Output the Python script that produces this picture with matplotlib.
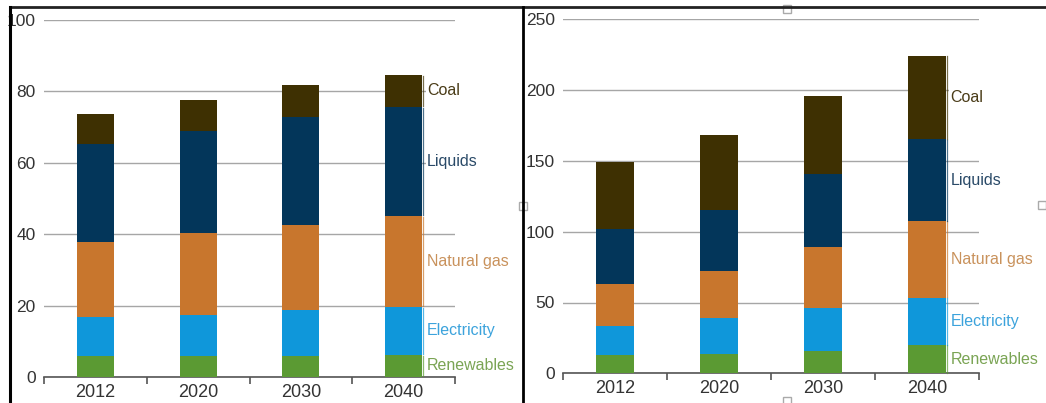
import numpy as np
import matplotlib.pyplot as plt
from matplotlib.lines import Line2D
from matplotlib.patches import Rectangle

plt.rcParams['font.family'] = ['Liberation Sans', 'DejaVu Sans']

years = ['2012', '2020', '2030', '2040']
fuels = ['Renewables', 'Electricity', 'Natural gas', 'Liquids', 'Coal']

# left chart, stacked segment sizes per year
left_renewables = [5.9, 5.9, 5.9, 6.2]
left_electricity = [11.0, 11.6, 12.9, 13.5]
left_natural_gas = [20.8, 22.7, 23.9, 25.4]
left_liquids = [27.6, 28.8, 30.2, 30.6]
left_coal = [8.3, 8.7, 9.0, 9.0]

# right chart
right_renewables = [12.9, 13.6, 16.0, 20.0]
right_electricity = [20.7, 25.7, 29.9, 33.4]
right_natural_gas = [29.2, 32.9, 43.5, 54.2]
right_liquids = [39.3, 43.1, 51.1, 57.7]
right_coal = [47.3, 52.8, 55.5, 59.0]

bar_colors = ['#5b9a33', '#0f97da', '#c8762d', '#03365a', '#3e3002']
text_colors = ['#7aa454', '#3ca3dc', '#c9925c', '#2a4a68', '#4a3c18']

W, H = 1046, 403
fig = plt.figure(figsize=(W / 100, H / 100), dpi=100)


def px_axes(x0, x1, y_top, y_bot):
    return fig.add_axes([x0 / W, (H - y_bot) / H, (x1 - x0) / W, (y_bot - y_top) / H])


def draw_panel(ax, series, ymax, ystep):
    x = np.arange(len(years))
    width = 0.36
    bottom = np.zeros(len(years))
    for vals, c, tc, name in zip(series, bar_colors, text_colors, fuels):
        vals = np.array(vals)
        ax.bar(x, vals, width, bottom=bottom, color=c, zorder=3)
        # bracket + label beside the last bar
        lo, hi = bottom[-1], bottom[-1] + vals[-1]
        bx = x[-1] + width / 2 + 0.012
        ax.plot([bx, bx], [lo + 0.3, hi - 0.3], color=c, lw=0.9, alpha=0.7,
                zorder=4, clip_on=False)
        ax.text(bx + 0.035, (lo + hi) / 2, name, color=tc, fontsize=11.5,
                va='center', ha='left', zorder=5, clip_on=False,
                bbox=dict(facecolor='white', edgecolor='none', pad=1))
        bottom += vals

    ax.set_xlim(-0.5, len(years) - 0.5)
    ax.set_ylim(0, ymax)
    ax.set_yticks(np.arange(0, ymax + 1, ystep))
    ax.yaxis.grid(True, color='#a6a6a6', lw=1)
    ax.set_axisbelow(True)
    for s in ['left', 'right', 'top']:
        ax.spines[s].set_visible(False)
    ax.spines['bottom'].set_color('#555555')
    ax.spines['bottom'].set_linewidth(1.2)
    ax.set_xticks(x)
    ax.set_xticklabels(years)
    ax.set_xticks(np.arange(-0.5, len(years)), minor=True)
    ax.tick_params(axis='x', which='major', length=0, pad=5,
                   labelsize=13, labelcolor='#333333')
    ax.tick_params(axis='x', which='minor', length=5, width=1.2,
                   color='#555555')
    ax.tick_params(axis='y', length=0, pad=6, labelsize=12.5,
                   labelcolor='#333333')


ax1 = px_axes(44, 455, 20, 377)
draw_panel(ax1, [left_renewables, left_electricity, left_natural_gas,
                 left_liquids, left_coal], 100, 20)

ax2 = px_axes(563, 979, 19.3, 373.3)
draw_panel(ax2, [right_renewables, right_electricity, right_natural_gas,
                 right_liquids, right_coal], 250, 50)

# outer frame lines
def fig_line(xs, ys, lw=2, color='black'):
    fig.add_artist(Line2D([v / W for v in xs], [(H - v) / H for v in ys],
                          lw=lw, color=color))

fig_line([10, W], [7, 7], lw=2, color='#222222')
fig_line([10, 10], [7, H], lw=2.2)
fig_line([523, 523], [7, H], lw=2)

# small handle boxes on the frame
for hx, hy in [(787, 9), (523, 206), (1042, 205), (787, 401)]:
    fig.add_artist(Rectangle(((hx - 4) / W, (H - hy - 4) / H), 8 / W, 8 / H,
                             facecolor='white', edgecolor='#aaaaaa', lw=1))

fig.savefig('out.png', dpi=100)
